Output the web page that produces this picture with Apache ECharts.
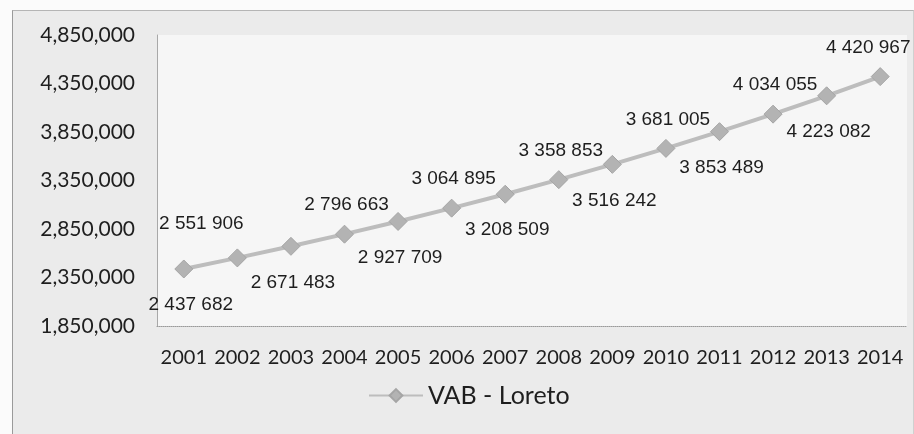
<!DOCTYPE html>
<html>
<head>
<meta charset="utf-8">
<script src="https://cdn.jsdelivr.net/npm/echarts@6/dist/echarts.min.js"></script>
<style>
  html, body { margin: 0; padding: 0; background: #fbfbfb; }
  #frame {
    position: absolute;
    left: 12px;
    top: 10px;
    width: 900px;
    height: 424px;
    border-left: 1px solid #9a9a9a;
    border-top: 1px solid #b5b5b5;
    border-right: 1px solid #d0d0d0;
    background: #ebebeb;
  }
  #chart { width: 900px; height: 424px; }
</style>
</head>
<body>
<div id="frame"><div id="chart"></div></div>
<script>
  // datos del grafico
  var years = ['2001', '2002', '2003', '2004', '2005', '2006', '2007',
               '2008', '2009', '2010', '2011', '2012', '2013', '2014'];
  var vabLoreto = [2437682, 2551906, 2671483, 2796663, 2927709, 3064895, 3208509,
                   3358853, 3516242, 3681005, 3853489, 4034055, 4223082, 4420967];
  var seriesName = 'VAB - Loreto';
  var yMin = 1850000;
  var yMax = 4850000;
  var yStep = 500000;

  function fmtComma(v) {
    return String(v).replace(/\B(?=(\d{3})+(?!\d))/g, ',');
  }
  function fmtSpace(v) {
    return String(v).replace(/\B(?=(\d{3})+(?!\d))/g, ' ');
  }

  // etiquetas alternadas abajo / arriba
  var seriesData = vabLoreto.map(function (v, i) {
    var above = i % 2 === 1;
    var dx = 2, dy = 0;
    if (i === 0) dx = 7;
    if (i === 1) { dx = -36; dy = -5; }
    if (i === 13) dx = -12;
    return {
      value: v,
      label: {
        position: above ? 'top' : 'bottom',
        distance: above ? 10 : 17,
        offset: [dx, dy]
      }
    };
  });

  var myChart = echarts.init(document.getElementById('chart'));
  var option = {
    animation: false,
    grid: {
      left: 144,
      right: 6,
      top: 24,
      bottom: 109,
      show: true,
      backgroundColor: '#f6f6f6',
      borderWidth: 0
    },
    legend: {
      data: [seriesName],
      left: 350,
      top: 367,
      itemWidth: 54,
      itemHeight: 16,
      itemGap: 8,
      textStyle: {
        fontFamily: 'Lato',
        fontSize: 25,
        color: '#1e1e1e'
      }
    },
    xAxis: {
      type: 'category',
      data: years,
      boundaryGap: true,
      axisLine: {
        show: true,
        lineStyle: { color: '#9a9a9a', type: 'dotted', width: 1 }
      },
      axisTick: { show: false },
      axisLabel: {
        margin: 22,
        fontFamily: 'Lato',
        fontSize: 20,
        color: '#1e1e1e',
        interval: 0
      }
    },
    yAxis: {
      type: 'value',
      min: yMin,
      max: yMax,
      interval: yStep,
      axisLine: {
        show: true,
        lineStyle: { color: '#a8a8a8', width: 1 }
      },
      axisTick: { show: false },
      splitLine: { show: false },
      axisLabel: {
        margin: 22,
        fontFamily: 'Lato',
        fontSize: 21,
        color: '#1e1e1e',
        formatter: fmtComma
      }
    },
    series: [
      {
        name: seriesName,
        type: 'line',
        data: seriesData,
        symbol: 'diamond',
        symbolSize: 18,
        color: '#b3b3b3',
        lineStyle: { color: '#bdbdbd', width: 4 },
        itemStyle: { color: '#b3b3b3', borderColor: '#a5a5a5', borderWidth: 1 },
        label: {
          show: true,
          fontFamily: 'Liberation Sans',
          fontSize: 19,
          color: '#1e1e1e',
          formatter: function (p) { return fmtSpace(p.value); }
        }
      }
    ]
  };
  myChart.setOption(option);
</script>
</body>
</html>
